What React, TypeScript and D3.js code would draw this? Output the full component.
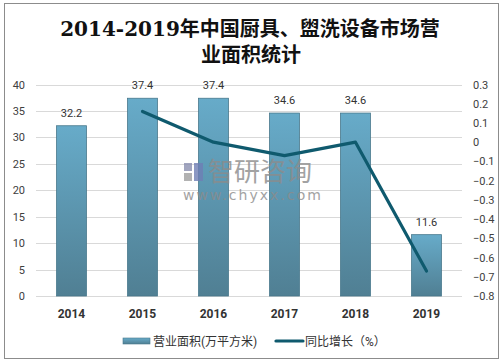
import * as d3 from 'd3';
import React, { useEffect, useRef } from 'react';

const years = ['2014', '2015', '2016', '2017', '2018', '2019'];
const area = [32.2, 37.4, 37.4, 34.6, 34.6, 11.6];
const growth = [null, 0.16, 0.0, -0.07, 0.0, -0.67];
const leftTicks = [0, 5, 10, 15, 20, 25, 30, 35, 40];
const rightTicks = [0.3, 0.2, 0.1, 0, -0.1, -0.2, -0.3, -0.4, -0.5, -0.6, -0.7, -0.8];

const W = 503;
const H = 364;

const App = () => {
  const ref = useRef<SVGSVGElement>(null);

  useEffect(() => {
    if (!ref.current) return;
    const svg = d3.select(ref.current);
    svg.selectAll('*').remove();

    const plotL = 36, plotR = 462, plotT = 84.5, plotB = 296;
    const sans = 'Roboto, "Noto Sans CJK SC", sans-serif';

    // frame
    svg.append('rect')
      .attr('x', 4.5).attr('y', 3.5).attr('width', 494).attr('height', 355)
      .attr('fill', '#fff').attr('stroke', '#8c8c8c').attr('stroke-width', 1);

    // title
    const title = svg.append('text')
      .attr('text-anchor', 'middle')
      .attr('font-family', '"DejaVu Serif", "Noto Sans CJK SC", serif')
      .attr('font-weight', 'bold')
      .attr('font-size', 20)
      .attr('fill', '#111');
    title.append('tspan').attr('x', 250).attr('y', 36).text('2014-2019年中国厨具、盥洗设备市场营');
    title.append('tspan').attr('x', 251).attr('y', 62).text('业面积统计');

    const x = d3.scaleBand().domain(years).range([plotL, plotR]).paddingInner(0.58).paddingOuter(0.29);
    const y = d3.scaleLinear().domain([0, 40]).range([plotB, plotT]);
    const y2 = d3.scaleLinear().domain([-0.8, 0.3]).range([plotB, plotT]);

    // gridlines
    svg.append('g').selectAll('line').data(leftTicks).join('line')
      .attr('x1', plotL).attr('x2', plotR)
      .attr('y1', d => Math.round(y(d)) + 0.5).attr('y2', d => Math.round(y(d)) + 0.5)
      .attr('stroke', '#d9d9d9').attr('stroke-width', 1);

    // left axis labels
    svg.append('g').selectAll('text').data(leftTicks).join('text')
      .attr('x', 25).attr('y', d => y(d) + 4)
      .attr('text-anchor', 'end')
      .attr('font-family', sans).attr('font-size', 11).attr('fill', '#404040')
      .text(d => d);

    // right axis labels
    svg.append('g').selectAll('text').data(rightTicks).join('text')
      .attr('x', 473).attr('y', d => y2(d) + 4)
      .attr('text-anchor', 'start')
      .attr('font-family', sans).attr('font-size', 11).attr('fill', '#404040')
      .text(d => d3.format('')(+d.toFixed(1)));

    // gradient
    const defs = svg.append('defs');
    const grad = defs.append('linearGradient').attr('id', 'barGrad')
      .attr('x1', 0).attr('y1', 0).attr('x2', 0).attr('y2', 1);
    grad.append('stop').attr('offset', '0%').attr('stop-color', '#67abc9');
    grad.append('stop').attr('offset', '100%').attr('stop-color', '#507f93');

    // bars
    svg.append('g').selectAll('rect').data(area).join('rect')
      .attr('x', (d, i) => x(years[i])!)
      .attr('y', d => y(d))
      .attr('width', x.bandwidth())
      .attr('height', d => plotB - y(d))
      .attr('fill', 'url(#barGrad)')
      .attr('stroke', '#46778b').attr('stroke-width', 0.8);

    // watermark
    const wm = svg.append('g').attr('opacity', 0.8);
    wm.append('rect').attr('x', 184).attr('y', 163).attr('width', 8).attr('height', 8).attr('fill', '#8a8fb0');
    wm.append('rect').attr('x', 194).attr('y', 163).attr('width', 9).attr('height', 18).attr('fill', '#6f7fb5');
    wm.append('rect').attr('x', 184).attr('y', 173).attr('width', 8).attr('height', 8).attr('fill', '#a0a0a0');
    wm.append('text').attr('x', 208).attr('y', 181)
      .attr('font-family', '"Noto Sans CJK SC", sans-serif').attr('font-size', 26).attr('fill', '#8c8c8c')
      .text('智研咨询');
    wm.append('text').attr('x', 183).attr('y', 200)
      .attr('font-family', '"DejaVu Sans", sans-serif').attr('font-size', 14).attr('fill', '#8c8c8c')
      .attr('textLength', 138)
      .text('www.chyxx.com');

    // bar value labels
    svg.append('g').selectAll('text').data(area).join('text')
      .attr('x', (d, i) => x(years[i])! + x.bandwidth() / 2)
      .attr('y', d => y(d) - 9)
      .attr('text-anchor', 'middle')
      .attr('font-family', sans).attr('font-size', 11).attr('fill', '#333')
      .text(d => d.toFixed(1));

    // x labels
    svg.append('g').selectAll('text').data(years).join('text')
      .attr('x', d => x(d)! + x.bandwidth() / 2)
      .attr('y', 318)
      .attr('text-anchor', 'middle')
      .attr('font-family', sans).attr('font-size', 12).attr('font-weight', 'bold').attr('fill', '#333')
      .text(d => d);

    // growth line
    const pts = growth.map((g, i) => ({ year: years[i], g })).filter(p => p.g !== null) as { year: string; g: number }[];
    const line = d3.line<{ year: string; g: number }>()
      .x(p => x(p.year)! + x.bandwidth() / 2)
      .y(p => y2(p.g));
    svg.append('path').datum(pts)
      .attr('d', line)
      .attr('fill', 'none').attr('stroke', '#0f5a6e').attr('stroke-width', 3.2)
      .attr('stroke-linejoin', 'round').attr('stroke-linecap', 'round');

    // legend
    const lg = svg.append('g');
    lg.append('rect').attr('x', 123).attr('y', 338).attr('width', 27).attr('height', 6)
      .attr('fill', 'url(#barGrad)').attr('stroke', '#46778b').attr('stroke-width', 0.6);
    lg.append('text').attr('x', 153).attr('y', 345.5)
      .attr('font-family', sans).attr('font-size', 12).attr('fill', '#333')
      .text('营业面积(万平方米)');
    lg.append('line').attr('x1', 276).attr('x2', 303).attr('y1', 341).attr('y2', 341)
      .attr('stroke', '#0f5a6e').attr('stroke-width', 3.2).attr('stroke-linecap', 'round');
    lg.append('text').attr('x', 305).attr('y', 345.5)
      .attr('font-family', sans).attr('font-size', 12).attr('fill', '#333')
      .text('同比增长（%）');
  }, []);

  return (
    <div style={{ position: 'absolute', left: 0, top: 0 }}>
      <svg ref={ref} width={W} height={H} />
    </div>
  );
};

export default App;
